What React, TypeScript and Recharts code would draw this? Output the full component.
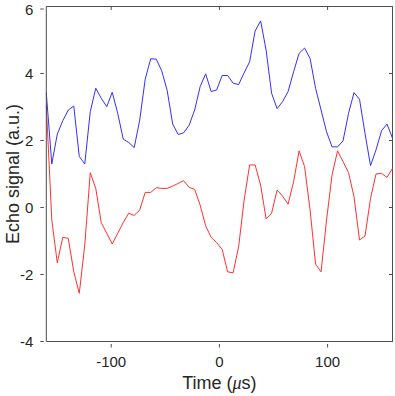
import { Line, LineChart, ReferenceLine, XAxis, YAxis } from 'recharts';

// sample times in microseconds (64 samples across the window)
const timeUs = [
  -160, -154.92, -149.84, -144.76, -139.68, -134.6, -129.52, -124.44, -119.37, -114.29,
  -109.21, -104.13, -99.05, -93.97, -88.89, -83.81, -78.73, -73.65, -68.57, -63.49,
  -58.41, -53.33, -48.25, -43.17, -38.1, -33.02, -27.94, -22.86, -17.78, -12.7,
  -7.62, -2.54, 2.54, 7.62, 12.7, 17.78, 22.86, 27.94, 33.02, 38.1,
  43.17, 48.25, 53.33, 58.41, 63.49, 68.57, 73.65, 78.73, 83.81, 88.89,
  93.97, 99.05, 104.13, 109.21, 114.29, 119.37, 124.44, 129.52, 134.6, 139.68,
  144.76, 149.84, 154.92, 160,
];

const blueEcho = [
  3.42, 1.3, 2.19, 2.59, 2.91, 3.03, 1.52, 1.3, 2.86, 3.56,
  3.26, 3.01, 3.44, 2.81, 2.04, 1.94, 1.79, 2.61, 3.83, 4.44,
  4.43, 4.08, 3.49, 2.49, 2.18, 2.23, 2.46, 2.91, 3.61, 3.99,
  3.46, 3.51, 3.94, 3.94, 3.71, 3.67, 4.02, 4.35, 5.27, 5.57,
  4.7, 3.41, 2.95, 3.16, 3.46, 4.05, 4.6, 4.76, 4.45, 3.56,
  2.91, 2.26, 1.81, 1.81, 1.99, 2.81, 3.43, 3.23, 2.21, 1.25,
  1.72, 2.29, 2.49, 2.07,
];

const redEcho = [
  3.05, -0.37, -1.65, -0.89, -0.92, -1.92, -2.56, -1.12, 1.04, 0.57,
  -0.45, -0.77, -1.09, -0.77, -0.45, -0.17, -0.24, -0.07, 0.45, 0.45,
  0.59, 0.57, 0.57, 0.64, 0.72, 0.8, 0.6, 0.54, 0.07, -0.55,
  -0.89, -1.05, -1.25, -1.92, -1.95, -1.17, 0.22, 1.27, 1.27, 0.67,
  -0.34, -0.17, 0.52, 0.34, 0.1, 0.77, 1.69, 1.22, -0.07, -1.69,
  -1.92, -0.37, 0.97, 1.69, 1.37, 1.04, 0.32, -0.97, -0.85, 0.27,
  1.0, 1.02, 0.9, 1.17,
];

const xDomain = [-160, 160];
const yDomain = [-4, 6];
const xTicks = [-100, 0, 100];
const yTicks = [-4, -2, 0, 2, 4, 6];

const data = timeUs.map((t, i) => ({ t, blue: blueEcho[i], red: redEcho[i] }));

const axisColor = '#4d4d4d';
const textColor = '#262626';
const font = '"Liberation Sans", Arial, sans-serif';
const tickLen = 3.5;

const BottomTick = ({ x, y, payload }: any) => (
  <g>
    <line x1={x} x2={x} y1={y} y2={y - tickLen} stroke={axisColor} />
    <text x={x} y={y + 19} textAnchor="middle" fill={textColor} fontSize={15} fontFamily={font}>
      {payload.value}
    </text>
  </g>
);

const LeftTick = ({ x, y, payload }: any) => (
  <g>
    <line x1={x} x2={x + tickLen} y1={y} y2={y} stroke={axisColor} />
    <text x={x - 7} y={y} dy={5.5} textAnchor="end" fill={textColor} fontSize={15} fontFamily={font}>
      {payload.value}
    </text>
  </g>
);

// inward tick marks on the top and right spines (MATLAB box style)
const topTickShape = (p: any) => {
  const top = Math.min(p.y1, p.y2);
  return <line x1={p.x1} x2={p.x1} y1={top} y2={top + tickLen} stroke={axisColor} />;
};
const rightTickShape = (p: any) => {
  const right = Math.max(p.x1, p.x2);
  return <line x1={right} x2={right - tickLen} y1={p.y1} y2={p.y1} stroke={axisColor} />;
};

export default function App() {
  return (
    <div style={{ position: 'fixed', left: 0, top: 0, background: '#fff' }}>
      <LineChart width={395} height={396} data={data} margin={{ top: 6.5, right: 2.5, bottom: 24.5, left: 6.3 }}>
        <XAxis
          dataKey="t"
          type="number"
          domain={xDomain}
          ticks={xTicks}
          height={30}
          tickLine={false}
          tickMargin={0}
          axisLine={{ stroke: axisColor }}
          tick={<BottomTick />}
          label={{
            content: ({ viewBox }: any) => (
              <text
                x={viewBox.x + viewBox.width / 2}
                y={viewBox.y + 47.5}
                textAnchor="middle"
                fill={textColor}
                fontSize={18}
                fontFamily={font}
              >
                Time (<tspan fontStyle="italic" fontFamily='"Liberation Serif", serif'>μ</tspan>s)
              </text>
            ),
          }}
        />
        <YAxis
          type="number"
          domain={yDomain}
          ticks={yTicks}
          width={40}
          tickLine={false}
          tickMargin={0}
          axisLine={{ stroke: axisColor }}
          tick={<LeftTick />}
          label={{
            content: ({ viewBox }: any) => {
              const cx = 19;
              const cy = viewBox.y + viewBox.height / 2;
              return (
                <text
                  x={cx}
                  y={cy}
                  transform={`rotate(-90 ${cx} ${cy})`}
                  textAnchor="middle"
                  fill={textColor}
                  fontSize={18}
                  fontFamily={font}
                >
                  Echo signal (a.u.)
                </text>
              );
            },
          }}
        />
        <ReferenceLine y={yDomain[1]} stroke={axisColor} />
        <ReferenceLine x={xDomain[1]} stroke={axisColor} />
        {xTicks.map((v) => (
          <ReferenceLine key={`tx${v}`} x={v} stroke={axisColor} shape={topTickShape} />
        ))}
        {yTicks.map((v) => (
          <ReferenceLine key={`ty${v}`} y={v} stroke={axisColor} shape={rightTickShape} />
        ))}
        <Line type="linear" dataKey="blue" stroke="#3030ff" strokeWidth={1} dot={false} isAnimationActive={false} />
        <Line type="linear" dataKey="red" stroke="#ff3030" strokeWidth={1} dot={false} isAnimationActive={false} />
      </LineChart>
    </div>
  );
}
